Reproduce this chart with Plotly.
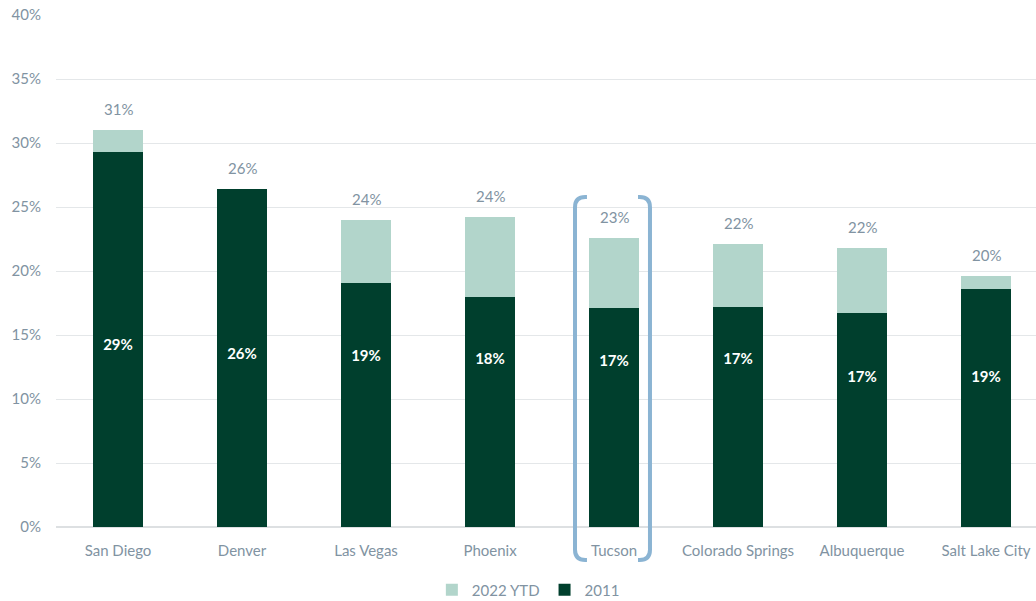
import plotly.graph_objects as go

FONT_FAMILY = 'Lato, Carlito, "Open Sans", sans-serif'
DARK = '#003F2D'
LIGHT = '#B2D5CB'
GREY = '#8193A2'
BRACKET = '#8BB4D3'

cities = ['San Diego', 'Denver', 'Las Vegas', 'Phoenix', 'Tucson',
          'Colorado Springs', 'Albuquerque', 'Salt Lake City']
share_2011 = [29.3, 26.4, 19.1, 18.0, 17.1, 17.2, 16.7, 18.6]
share_2022 = [31.0, 26.4, 24.0, 24.2, 22.6, 22.1, 21.8, 19.6]

# where the white labels sit inside the dark bars
inner_label_y = [14.1, 13.4, 13.3, 13.0, 12.9, 13.0, 11.6, 11.6]

extra = [b - a for a, b in zip(share_2011, share_2022)]

fig = go.Figure()

fig.add_trace(go.Bar(
    x=cities, y=share_2011, name='2011',
    marker=dict(color=DARK, line=dict(width=0)),
    width=0.4, legendrank=2,
))
fig.add_trace(go.Bar(
    x=cities, y=extra, name='2022 YTD',
    marker=dict(color=LIGHT, line=dict(width=0)),
    width=0.4, legendrank=1,
))

# white labels inside (2011)
fig.add_trace(go.Scatter(
    x=cities, y=inner_label_y, mode='text',
    text=[f'{round(v)}%' for v in share_2011],
    textfont=dict(color='white', size=15, family=FONT_FAMILY, weight='bold'),
    showlegend=False, hoverinfo='skip',
))

# grey labels above (2022 YTD)
for city, v in zip(cities, share_2022):
    fig.add_annotation(x=city, y=v, text=f'{round(v)}%', showarrow=False,
                       yanchor='bottom', yshift=10,
                       font=dict(color=GREY, size=15, family=FONT_FAMILY))

# bracket highlighting Tucson
rx, ry = 0.0105, 0.02
lx, lx2 = 0.5296, 0.5418
rxp, rx2 = 0.6061, 0.5939
top, bot = 0.6445, -0.0645
left_path = (f'M {lx2},{top} L {lx+rx},{top} Q {lx},{top} {lx},{top-ry} '
             f'L {lx},{bot+ry} Q {lx},{bot} {lx+rx},{bot} L {lx2},{bot}')
right_path = (f'M {rx2},{top} L {rxp-rx},{top} Q {rxp},{top} {rxp},{top-ry} '
              f'L {rxp},{bot+ry} Q {rxp},{bot} {rxp-rx},{bot} L {rx2},{bot}')
for p in (left_path, right_path):
    fig.add_shape(type='path', path=p, xref='paper', yref='paper',
                  line=dict(color=BRACKET, width=4))

fig.update_layout(
    barmode='stack',
    width=1036, height=601,
    margin=dict(l=56, r=0, t=15, b=74, autoexpand=False),
    plot_bgcolor='white', paper_bgcolor='white',
    font=dict(family=FONT_FAMILY, size=15, color=GREY),
    showlegend=True,
    legend=dict(orientation='h', x=0.482, xanchor='center',
                y=-0.123, yanchor='middle', font=dict(size=15, color=GREY),
                traceorder='normal'),
    xaxis=dict(range=[-0.5, 7.403], showgrid=False, showline=False,
               tickangle=0, automargin=False,
               ticks='outside', ticklen=0, ticklabelstandoff=10),
    yaxis=dict(range=[0, 40], dtick=5, ticksuffix='%', showgrid=True,
               gridcolor='#E4E7E9', gridwidth=1, zeroline=True, automargin=False,
               zerolinecolor='#DDE0E2', showline=False, ticklabelstandoff=14),
)

fig.write_html('out.html', config={'displayModeBar': False},
               post_script="document.body.style.margin='0';")
